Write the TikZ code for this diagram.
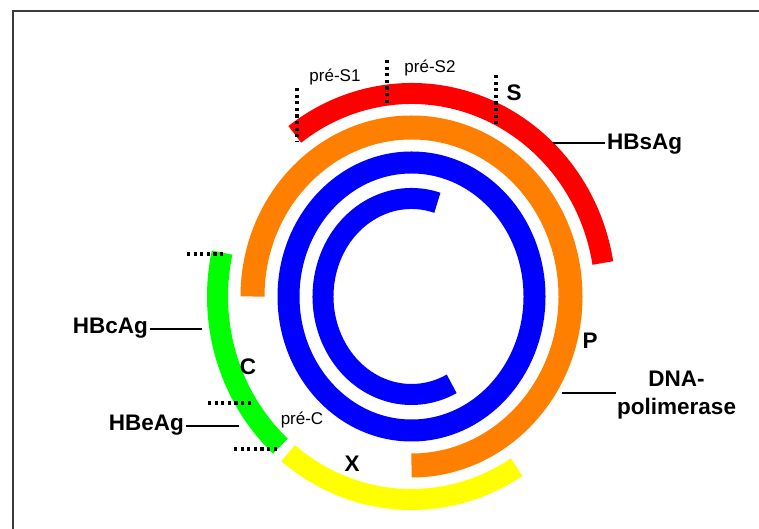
\documentclass[tikz,border=0pt]{standalone}
\usepackage{fontspec}
\setmainfont{Liberation Sans}
\usetikzlibrary{calc,positioning}
\definecolor{sred}{HTML}{FF0000}
\definecolor{porange}{HTML}{FF8000}
\definecolor{dnablue}{HTML}{0000FF}
\definecolor{cgreen}{HTML}{00FF00}
\definecolor{xyellow}{HTML}{FFFF00}
\definecolor{edge}{HTML}{3C3C3C}
\tikzset{
  band/.style={line width=21pt},
  genelabel/.style={font=\fontsize{22.5}{28}\selectfont\bfseries, inner sep=2pt, align=center},
  tinylabel/.style={font=\fontsize{17}{19}\selectfont, inner sep=0pt},
  leader/.style={draw=black, line width=1.4pt},
  cutline/.style={draw=black, line width=3.3pt, dash pattern=on 3.2pt off 3.4pt}
}

\begin{document}
\begin{tikzpicture}[x=1pt,y=1pt]
  \useasboundingbox (0,0) rectangle (759,529);
  \draw[draw=edge,line width=2.4pt] (13,0) -- (13,518) -- (759,518);
  \coordinate (c) at (411.5,232.5);
  % genome rings
  \draw[band,draw=dnablue] ($(c)+(73:88.5pt and 98pt)$)
    arc[start angle=73, end angle=297, x radius=88.5pt, y radius=98pt];
  \draw[band,draw=dnablue,line width=22pt] (c) ellipse [x radius=123pt, y radius=134pt];
  \draw[band,draw=porange,line width=24pt] ($(c)+(180:159pt and 169pt)$)
    arc[start angle=180, end angle=-90, x radius=159pt, y radius=169pt];
  % genes on the outside
  \draw[band,draw=sred] ($(c)+(9.5:194pt and 203pt)$)
    arc[start angle=9.5, end angle=127, x radius=194pt, y radius=203pt];
  \draw[band,draw=cgreen] ($(c)+(167.5:194pt and 203pt)$)
    arc[start angle=167.5, end angle=227.5, x radius=194pt, y radius=203pt];
  \draw[band,draw=xyellow] ($(c)+(230.5:194pt and 203pt)$)
    arc[start angle=230.5, end angle=302.8, x radius=194pt, y radius=203pt];
  % cut marks
  \coordinate (s1top) at (297,441); \coordinate (s1bot) at (297,387);
  \coordinate (s2top) at (387,469); \coordinate (s2bot) at (387,426);
  \coordinate (stop)  at (496,454); \coordinate (sbot)  at (496,404);
  \draw[cutline] (s1top) -- (s1bot);
  \draw[cutline] (s2top) -- (s2bot);
  \draw[cutline] (stop) -- (sbot);
  \coordinate (ctopa) at (187,275); \coordinate (ctopb) at (223,275);
  \coordinate (cmida) at (208,126); \coordinate (cmidb) at (252,126);
  \coordinate (cbota) at (234,80);  \coordinate (cbotb) at (277,80);
  \draw[cutline] (ctopa) -- (ctopb);
  \draw[cutline] (cmida) -- (cmidb);
  \draw[cutline] (cbota) -- (cbotb);
  % region labels
  \node[tinylabel] (pres1) at (335,452) {pré-S1};
  \node[tinylabel] (pres2) at (430,461) {pré-S2};
  \node[tinylabel] (prec) at (302,109) {pré-C};
  \node[genelabel] (sgene) at (514,436) {S};
  \node[genelabel] (pgene) at (590,188) {P};
  \node[genelabel] (cgene) at (248,162) {C};
  \node[genelabel] (xgene) at (352,65) {X};
  % proteins
  \node[genelabel,anchor=west] (hbsag) at (605,385) {HBsAg};
  \coordinate (hbsagpt) at (553,386);
  \draw[leader] (hbsagpt) -- (hbsagpt -| hbsag.west);
  \node[genelabel,anchor=west,inner sep=1pt] (dnapol) at (616,134) {DNA-\\polimerase};
  \coordinate (dnapolpt) at (562,136);
  \draw[leader] (dnapolpt) -- (dnapolpt -| dnapol.west);
  \node[genelabel,anchor=east] (hbcag) at (150,201) {HBcAg};
  \coordinate (hbcagpt) at (202,200);
  \draw[leader] (hbcagpt) -- (hbcagpt -| hbcag.east);
  \node[genelabel,anchor=east] (hbeag) at (186,104) {HBeAg};
  \coordinate (hbeagpt) at (239,103);
  \draw[leader] (hbeagpt) -- (hbeagpt -| hbeag.east);
\end{tikzpicture}
\end{document}
